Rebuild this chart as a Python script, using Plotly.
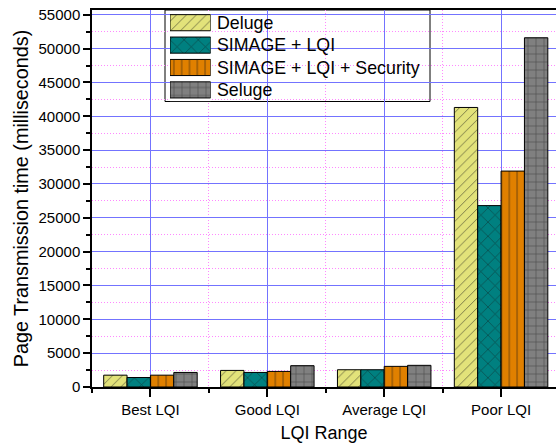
import plotly.graph_objects as go

# LQI ranges on the x axis
categories = ["Best LQI", "Good LQI", "Average LQI", "Poor LQI"]

# Page transmission time (ms) per protocol
deluge = [1750, 2450, 2550, 41300]
simage_lqi = [1400, 2150, 2550, 26800]
simage_lqi_sec = [1750, 2300, 3050, 31900]
seluge = [2150, 3150, 3200, 51600]

series_names = ["Deluge", "SIMAGE + LQI", "SIMAGE + LQI + Security", "Seluge"]
series_values = [deluge, simage_lqi, simage_lqi_sec, seluge]
fill_colors = ["#E2E27A", "#008080", "#E08000", "#808080"]
hatch_shapes = ["/", "x", "|", "+"]
hatch_sizes = [7, 10, 7.8, 8]

FONT = "Arial, Liberation Sans, sans-serif"
W, H = 556, 445
ML, MR, MT, MB = 92, 0, 10, 58
PW, PH = W - ML - MR, H - MT - MB

LEG_TOP, LEG_ROW = 11.5, 22.4


def px_x(p):
    return (p - ML) / PW


def px_y(p):
    return (H - MB - p) / PH


x_pos = list(range(len(categories)))

fig = go.Figure()

for row, (name, vals, color, shape, size) in enumerate(
        zip(series_names, series_values, fill_colors, hatch_shapes, hatch_sizes)):
    pattern = dict(shape=shape, fgcolor="#141414", size=size, solidity=0.14, fillmode="overlay")
    fig.add_trace(go.Bar(
        x=x_pos, y=vals, name=name, showlegend=False,
        marker=dict(color=color, line=dict(color="black", width=1), pattern=pattern),
    ))
    # legend swatch: a patterned horizontal bar in a small subplot of its own
    fig.add_trace(go.Bar(
        x=[1], y=[row], base=0, orientation="h", width=0.72, showlegend=False,
        hoverinfo="skip", xaxis="x2", yaxis="y2",
        marker=dict(color=color, line=dict(color="black", width=1), pattern=pattern),
    ))
    fig.add_annotation(x=px_x(215), y=px_y(LEG_TOP + LEG_ROW * (row + 0.5)),
                       xref="paper", yref="paper", text=name,
                       showarrow=False, xanchor="left", yanchor="middle",
                       font=dict(family=FONT, size=17.8, color="black"))

# legend box
fig.add_shape(type="rect", xref="paper", yref="paper",
              x0=px_x(165), x1=px_x(430), y0=px_y(101.5), y1=px_y(10),
              fillcolor="white", line=dict(color="black", width=1), layer="between")

fig.update_layout(
    width=W, height=H,
    margin=dict(l=ML, r=MR, t=MT, b=MB, pad=0),
    paper_bgcolor="white", plot_bgcolor="white",
    barmode="group", bargap=0.2, bargroupgap=0,
    font=dict(family=FONT, color="black"),
    showlegend=False,
    xaxis=dict(
        range=[-0.5, 3.47], tickvals=x_pos, ticktext=categories,
        ticks="outside", ticklen=8, tickwidth=1.5, tickcolor="black",
        tickfont=dict(size=15),
        showline=True, linecolor="black", linewidth=1.5, mirror=True,
        showgrid=True, gridcolor="#7373FF", gridwidth=1, zeroline=False,
        minor=dict(tickvals=[-0.5, 0.5, 1.5, 2.5, 3.5], ticks="outside", ticklen=4,
                   tickwidth=1.5, tickcolor="black", showgrid=True,
                   gridcolor="#FF88FF", griddash="1px,2px", gridwidth=1),
        title=dict(text="LQI Range", font=dict(size=18), standoff=10),
    ),
    yaxis=dict(
        range=[0, 55700], tick0=0, dtick=5000, tickformat="d",
        ticks="outside", ticklen=7, tickwidth=1.5, tickcolor="black",
        tickfont=dict(size=15),
        showline=True, linecolor="black", linewidth=1.5,
        showgrid=True, gridcolor="#7373FF", gridwidth=1, zeroline=False,
        minor=dict(dtick=2500, ticks="outside", ticklen=4, tickwidth=1.5,
                   tickcolor="black", showgrid=True,
                   gridcolor="#FF88FF", griddash="1px,2px", gridwidth=1),
        title=dict(text="Page Transmission time (milliseconds)", font=dict(size=19.8), standoff=5),
    ),
    xaxis2=dict(domain=[px_x(170), px_x(210.7)], range=[0, 1], anchor="y2",
                visible=False, fixedrange=True),
    yaxis2=dict(domain=[px_y(LEG_TOP + 4 * LEG_ROW), px_y(LEG_TOP)], range=[3.5, -0.5],
                anchor="x2", visible=False, fixedrange=True),
)

fig.write_html("out.html")
